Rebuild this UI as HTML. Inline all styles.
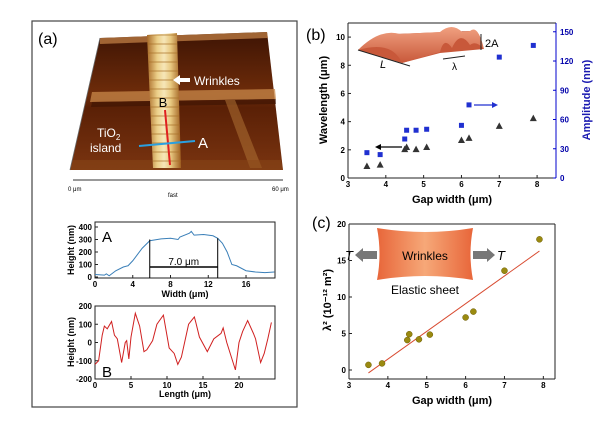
<!DOCTYPE html>
<html><head><meta charset="utf-8"><style>
body{margin:0;background:#fff}
svg{display:block;font-family:"Liberation Sans",Arial,sans-serif}
.t{font-size:8px;font-weight:bold}
.al{font-size:11px;font-weight:bold}
</style></head><body>
<svg id="fig" width="600" height="440" viewBox="0 0 600 440">
<defs>
<linearGradient id="afm" x1="0" y1="0" x2="0" y2="1"><stop offset="0" stop-color="#3e1404"/><stop offset="0.45" stop-color="#6e2c0a"/><stop offset="0.55" stop-color="#5a2006"/><stop offset="1" stop-color="#7a3410"/></linearGradient>
<linearGradient id="stripe" x1="0" y1="0" x2="1" y2="0"><stop offset="0" stop-color="#a86a28"/><stop offset="0.3" stop-color="#eccf88"/><stop offset="0.5" stop-color="#f6e6b8"/><stop offset="0.7" stop-color="#e8c880"/><stop offset="1" stop-color="#a06020"/></linearGradient>
<pattern id="rib" width="6" height="9" patternUnits="userSpaceOnUse"><rect width="6" height="9" fill="none"/><line x1="0" y1="8" x2="6" y2="8" stroke="#a87028" stroke-width="1.2" opacity="0.6"/></pattern>
<linearGradient id="sheet" x1="0" y1="0" x2="1" y2="0"><stop offset="0" stop-color="#e8663a"/><stop offset="0.5" stop-color="#f6a878"/><stop offset="1" stop-color="#e8663a"/></linearGradient>
<linearGradient id="wave" x1="0" y1="0" x2="0" y2="1"><stop offset="0" stop-color="#f0a080"/><stop offset="1" stop-color="#c8583a"/></linearGradient>
</defs>
<rect x="32" y="21" width="265" height="386" fill="none" stroke="#444" stroke-width="1.2"/>
<text x="38" y="44" font-size="16">(a)</text>
<g>
<polygon points="100,38 267,32 283,170 70,170" fill="url(#afm)"/>
<polygon points="92,92 275,89 276,99 90,102" fill="#c8884a" opacity="0.75"/>
<polygon points="92,102 276,99 276,104 91,107" fill="#3a1204" opacity="0.6"/>
<polygon points="100,38 267,32 268,38 100,44" fill="#b87840" opacity="0.8"/>
<polygon points="225,100 235,100 262,168 250,168" fill="#a86a30" opacity="0.6"/>
<polygon points="70,170 283,170 281,160 73,160" fill="#8a4818" opacity="0.5"/>
<polygon points="147,35 177,33 181,168 153,168" fill="url(#stripe)"/>
<polygon points="147,35 177,33 181,168 153,168" fill="url(#rib)"/>
<line x1="165" y1="110" x2="170" y2="165" stroke="#e02020" stroke-width="2"/>
<line x1="139" y1="146" x2="195" y2="141" stroke="#2aa0e0" stroke-width="2"/>
<text x="163" y="107" font-size="13" fill="#000" text-anchor="middle">B</text>
<text x="198" y="148" font-size="15" fill="#fff">A</text>
<text x="97" y="137" font-size="12" fill="#fff">TiO<tspan font-size="8" dy="3">2</tspan></text>
<text x="90" y="152" font-size="12" fill="#fff">island</text>
<polygon points="173,80 180,75 180,78 190,78 190,82 180,82 180,85" fill="#fff"/>
<text x="194" y="85" font-size="12" fill="#fff">Wrinkles</text>
<line x1="73" y1="180" x2="283" y2="180" stroke="#333"/>
<line x1="70" y1="170" x2="100" y2="38" stroke="#666" stroke-width="0.8"/>
<text x="68" y="191" font-size="6">0 μm</text><text x="272" y="191" font-size="6">60 μm</text><text x="168" y="197" font-size="6">fast</text>
</g>
<g id="pa"></g>
<g id="pb"></g>
<text x="306" y="40" font-size="16">(b)</text>
<g id="cb"></g>
<g>
<path d="M358,50 L395,34 L470,31 L484,49 L440,53 L402,63 Z" fill="#c8583a"/>
<path d="M358,50 Q380,28 400,34 L440,32 Q452,22 462,32 L470,31 Q478,24 484,49 Q476,40 470,45 Q460,30 452,48 Q444,36 440,52 L402,63 Q392,40 358,50Z" fill="url(#wave)"/>
<line x1="358" y1="50" x2="410" y2="66" stroke="#222"/><text x="380" y="68" font-size="11" font-style="italic">L</text>
<line x1="443" y1="59" x2="465" y2="56" stroke="#222"/><text x="452" y="70" font-size="10">λ</text>
<line x1="481" y1="34" x2="481" y2="50" stroke="#222"/><text x="485" y="47" font-size="11">2A</text>
</g>
<text x="312" y="228" font-size="16">(c)</text>
<g id="cc"></g>
<g>
<path d="M377,228 Q425,236 473,228 Q468,254 473,280 Q425,272 377,280 Q382,254 377,228Z" fill="url(#sheet)"/>
<text x="425" y="260" font-size="12" text-anchor="middle">Wrinkles</text>
<polygon points="377,251 363,251 363,248 355,255 363,262 363,259 377,259" fill="#777"/>
<polygon points="473,251 487,251 487,248 495,255 487,262 487,259 473,259" fill="#777"/>
<text x="353" y="260" font-size="13" font-style="italic" text-anchor="end">T</text>
<text x="497" y="260" font-size="13" font-style="italic">T</text>
<text x="425" y="294" font-size="12" text-anchor="middle">Elastic sheet</text>
</g>
</svg>
<script>
const aX=[0,1,1.2,1.5,2.2,3,3.5,4,5,5.8,7,8,8.8,9,10,10.2,10.5,11.5,12,12.5,13,13.5,14,14.5,15,16,17,18,19];
const aY=[20,15,25,10,50,80,90,130,230,290,305,310,300,320,350,365,335,340,335,330,310,270,200,100,90,50,40,35,40];
const bX=[0,0.5,1,1.3,1.7,2.3,2.7,3.1,3.7,4.2,4.4,4.7,5,5.6,6.2,6.8,7.2,8,8.6,9.5,10.3,11,11.5,12,13,13.4,13.8,14,14.5,15.6,16.5,17.5,17.8,18.3,19.5,20,20.5,21.2,22,22.3,23,23.5,24,24.5];
const bY=[-120,-100,40,90,75,115,40,20,-110,0,10,-90,30,160,90,-50,-40,10,100,150,-30,-60,-120,-80,100,120,140,110,30,-50,20,50,80,0,-150,0,60,120,50,20,-110,-60,20,110];
const gap=[3.5,3.85,4.5,4.55,4.8,5.08,6,6.2,7,7.9];
const wavelength=[0.85,0.95,2.05,2.2,2.05,2.2,2.7,2.85,3.7,4.25];
const amplitude=[26,24,40,49,49,50,54,75,124,136];
const lambdaSq=[0.7,0.9,4.1,4.9,4.2,4.85,7.2,8.0,13.6,17.9];
const fitX=[3.5,7.9];const fitY=[-0.4,16.3];
const NS='http://www.w3.org/2000/svg';
function mk(p,tag,at,txt){const e=document.createElementNS(NS,tag);for(const k in at)e.setAttribute(k,at[k]);if(txt!==undefined)e.textContent=txt;p.appendChild(e);return e;}
function sc(d0,d1,r0,r1){return v=>r0+(v-d0)*(r1-r0)/(d1-d0);}
function frame(g,x0,y0,x1,y1,nm){const r=mk(g,'rect',{x:x0,y:y0,width:x1-x0,height:y1-y0,fill:'none',stroke:'#222','stroke-width':1});}
function xt(g,sx,ticks,y,lab){ticks.forEach(t=>{mk(g,'line',{x1:sx(t),x2:sx(t),y1:y,y2:y-3,stroke:'#222'});const e=mk(g,'text',{x:sx(t),y:y+9,class:'t','text-anchor':'middle'},t);});}
function yt(g,sy,ticks,x,right){ticks.forEach(t=>{mk(g,'line',{x1:x,x2:right?x-3:x+3,y1:sy(t),y2:sy(t),stroke:right?'#00c':'#222'});const e=mk(g,'text',{x:right?x+4:x-3,y:sy(t)+3,class:'t','text-anchor':right?'start':'end',fill:right?'#00a':'#000'},t);});}
function line(g,xs,ys,sx,sy,col,nm){const e=mk(g,'polyline',{points:xs.map((x,i)=>sx(x)+','+sy(ys[i])).join(' '),fill:'none',stroke:col,'stroke-width':1});}
(function(){const g=document.getElementById('pa');const sx=sc(0,19.07,95,275),sy=sc(0,440,277,222);
frame(g,95,222,275,278,'profile-a-axes');xt(g,sx,[0,4,8,12,16],278);yt(g,sy,[0,100,200,300,400],95);
line(g,aX,aY,sx,sy,'#3a7fb8','profile-a-line');
mk(g,'text',{x:102,y:242,'font-size':15},'A');
mk(g,'line',{x1:sx(5.8),x2:sx(5.8),y1:sy(300),y2:278,stroke:'#000'});mk(g,'line',{x1:sx(13),x2:sx(13),y1:sy(310),y2:278,stroke:'#000'});
mk(g,'line',{x1:sx(5.8),x2:sx(13),y1:267,y2:267,stroke:'#000','stroke-width':1.5});
mk(g,'text',{x:(sx(5.8)+sx(13))/2,y:265,'font-size':10,'text-anchor':'middle'},'7.0 μm');
const yl=mk(g,'text',{x:0,y:0,class:'al',transform:'translate(74,250) rotate(-90)','text-anchor':'middle','style':'font-size:9px'},'Height (nm)');
const xl=mk(g,'text',{x:185,y:297,class:'al','text-anchor':'middle','style':'font-size:9px'},'Width (μm)');})();
(function(){const g=document.getElementById('pb');const sx=sc(0,25,95,275),sy=sc(-200,200,379,306);
frame(g,95,306,275,379,'profile-b-axes');xt(g,sx,[0,5,10,15,20],379);yt(g,sy,[-200,-100,0,100,200],95);
line(g,bX,bY,sx,sy,'#d02020','profile-b-line');
mk(g,'text',{x:102,y:377,'font-size':15},'B');
const yl=mk(g,'text',{x:0,y:0,class:'al',transform:'translate(74,342) rotate(-90)','text-anchor':'middle','style':'font-size:9px'},'Height (nm)');
const xl=mk(g,'text',{x:185,y:397,class:'al','text-anchor':'middle','style':'font-size:9px'},'Length (μm)');})();
(function(){const g=document.getElementById('cb');const sx=sc(3,8.5,348,556),sy=sc(0,11,178,23),sy2=sc(0,159,178,23);
mk(g,'line',{x1:348,y1:23,x2:348,y2:178,stroke:'#222'});mk(g,'line',{x1:348,y1:178,x2:556,y2:178,stroke:'#222'});mk(g,'line',{x1:348,y1:23,x2:556,y2:23,stroke:'#222'});mk(g,'line',{x1:556,y1:23,x2:556,y2:178,stroke:'#00c'});
xt(g,sx,[3,4,5,6,7,8],178);yt(g,sy,[0,2,4,6,8,10],348);yt(g,sy2,[0,30,60,90,120,150],556,true);
gap.forEach((x,i)=>{const t=mk(g,'polygon',{points:`${sx(x)-3.5},${sy(wavelength[i])+3} ${sx(x)+3.5},${sy(wavelength[i])+3} ${sx(x)},${sy(wavelength[i])-3.5}`,fill:'#333'});
const s=mk(g,'rect',{x:sx(x)-2.5,y:sy2(amplitude[i])-2.5,width:5,height:5,fill:'#2030d0'});});
mk(g,'line',{x1:378,y1:147,x2:402,y2:147,stroke:'#000','stroke-width':1.3});mk(g,'polygon',{points:'375,147 381,144 381,150',fill:'#000'});
mk(g,'line',{x1:474,y1:105,x2:494,y2:105,stroke:'#2030d0','stroke-width':1.3});mk(g,'polygon',{points:'498,105 492,102 492,108',fill:'#2030d0'});
const yl=mk(g,'text',{x:0,y:0,class:'al',transform:'translate(327,100) rotate(-90)','text-anchor':'middle'},'Wavelength (μm)');
const yr=mk(g,'text',{x:0,y:0,class:'al',fill:'#1a1ab0',transform:'translate(590,100) rotate(-90)','text-anchor':'middle'},'Amplitude (nm)');
const xl=mk(g,'text',{x:452,y:203,class:'al','text-anchor':'middle'},'Gap width (μm)');})();
(function(){const g=document.getElementById('cc');const sx=sc(3,8.3,349,555),sy=sc(0,20,370,224);
mk(g,'line',{x1:349,y1:224,x2:349,y2:379,stroke:'#222'});mk(g,'line',{x1:349,y1:379,x2:555,y2:379,stroke:'#222'});mk(g,'line',{x1:349,y1:224,x2:555,y2:224,stroke:'#222'});mk(g,'line',{x1:555,y1:224,x2:555,y2:379,stroke:'#222'});
xt(g,sx,[3,4,5,6,7,8],379);yt(g,sy,[0,5,10,15,20],349);
const f=mk(g,'line',{x1:sx(fitX[0]),y1:sy(fitY[0]),x2:sx(fitX[1]),y2:sy(fitY[1]),stroke:'#d84a30','stroke-width':1});
gap.forEach((x,i)=>{const c=mk(g,'circle',{cx:sx(x),cy:sy(lambdaSq[i]),r:3,fill:'#9a8a10',stroke:'#6a5a00','stroke-width':0.5});});
const yl=mk(g,'text',{x:0,y:0,class:'al',transform:'translate(331,300) rotate(-90)','text-anchor':'middle'},'λ² (10⁻¹² m²)');
const xl=mk(g,'text',{x:452,y:404,class:'al','text-anchor':'middle'},'Gap width (μm)');})();
</script>
</body></html>
